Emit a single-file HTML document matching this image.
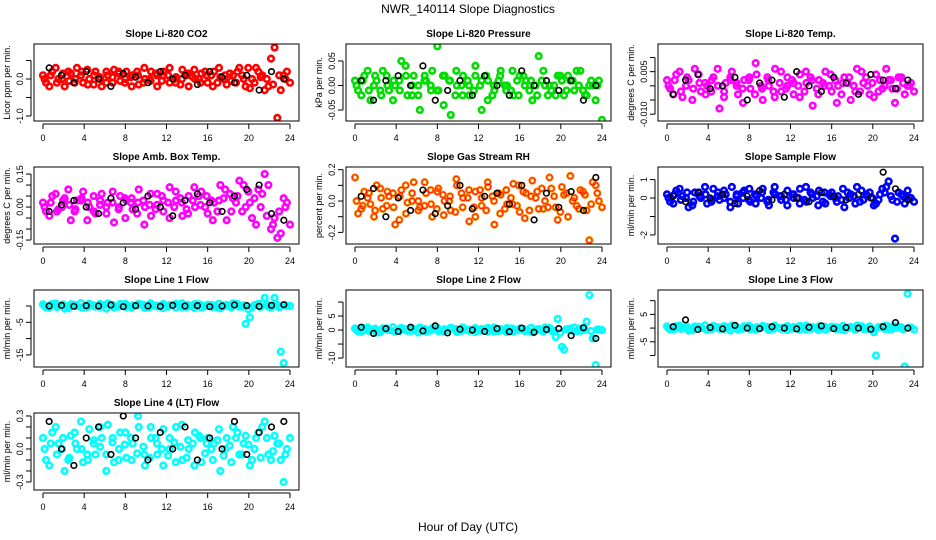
<!DOCTYPE html>
<html><head><meta charset="utf-8"><style>
body{margin:0;background:#fff;}
svg{display:block;font-family:"Liberation Sans",sans-serif;}
</style></head><body>
<svg id="chart" width="936" height="540" viewBox="0 0 936 540">
<text x="468" y="13" text-anchor="middle" font-size="12">NWR_140114  Slope Diagnostics</text>
<text x="468" y="531" text-anchor="middle" font-size="12">Hour of Day (UTC)</text>
</svg>
<script>
// x-axis ticks (hours)
const xTicks=[0,4,8,12,16,20,24];
// panel titles
const titles=["Slope Li-820 CO2","Slope Li-820 Pressure","Slope Li-820 Temp.","Slope Amb. Box Temp.","Slope Gas Stream RH","Slope Sample Flow","Slope Line 1 Flow","Slope Line 2 Flow","Slope Line 3 Flow","Slope Line 4 (LT) Flow"];
const yTitles=["Licor ppm per min.","kPa per min.","degrees C per min.","degrees C per min.","percent per min.","ml/min per min.","ml/min per min.","ml/min per min.","ml/min per min.","ml/min per min."];
// y domains [min,max]
const yDomains=[[-1.135,0.946],[-0.0724,0.0847],[-0.0124,0.01475],[-0.168,0.182],[-0.274,0.217],[-2.49,1.68],[-18.7,4.9],[-13.2,14.3],[-14.2,13.9],[-0.373,0.327]];
// y ticks and labels
const yTickVals=[[-1,-0.5,0,0.5],[-0.05,0,0.05],[-0.01,-0.005,0,0.005,0.01],[-0.15,-0.1,-0.05,0,0.05,0.1,0.15],[-0.2,-0.1,0,0.1,0.2],[-2,-1,0,1],[-15,-10,-5,0],[-10,-5,0,5,10],[-15,-10,-5,0,5,10],[-0.3,-0.2,-0.1,0,0.1,0.2,0.3]];
const yTickLabels=[["-1.0","","0.0",""],["-0.05","0.00","0.05"],["-0.010","","","0.005",""],["-0.15","","","0.00","","","0.15"],["-0.2","","0.0","","0.2"],["-2","","0","1"],["-15","","-5",""],["-10","","0","5",""],["-15","","-5","","5",""],["-0.3","","","0.0","","","0.3"]];
const colors=["#ff0000","#00dd00","#ff00ff","#ff00ff","#ff8c00","#0000ff","#00ffff","#00ffff","#00ffff","#00ffff"];

// colored series A, B, C and black series K per panel
const p1A=[0.1,-0.2,0.3,0.0,0.2,-0.1,0.1,0.25,-0.15,0.05,0.2,-0.1,0.15,0.0,-0.2,0.1,0.3,-0.05,0.1,0.2,-0.1,0.05,0.25,-0.2,0.0,0.15,-0.1,0.2,0.05,-0.15,0.1,0.3,-0.2,0.0,0.2,-0.3,0.55,-1.05,0.1,-0.1];
const p1B=[-0.1,0.2,0.0,-0.2,0.15,0.3,-0.1,0.0,0.2,-0.2,0.1,0.25,-0.05,0.2,0.1,-0.15,0.0,0.2,-0.2,0.1,0.3,-0.1,0.0,0.15,0.25,-0.1,0.1,-0.2,0.3,0.1,-0.05,0.2,0.0,-0.25,0.3,0.1,-0.2,0.85,-0.3,0.2];
const p1C=[0.0,0.1,-0.1,0.15,-0.05,0.0,0.2,-0.15,0.1,0.0,-0.1,0.05,0.2,-0.1,0.05,0.2,-0.1,0.0,0.15,-0.05,0.1,0.0,-0.15,0.1,0.05,0.0,0.2,0.1,-0.1,0.0,0.15,-0.1,0.1,0.3,-0.1,0.05,0.0,-0.15,0.1,0.0];
const p1K=[0.3,0.1,-0.1,0.2,0.0,-0.2,0.15,0.05,-0.1,0.2,0.0,0.1,-0.15,0.2,0.05,-0.1,0.1,-0.3,0.2,0.0];
const p2A=[0.01,-0.02,0.03,0.0,-0.01,0.02,-0.03,0.01,0.04,-0.02,0.0,0.02,-0.01,0.08,-0.04,0.01,0.03,-0.02,0.0,0.02,-0.05,0.01,-0.01,0.03,0.0,-0.02,0.02,0.01,-0.03,0.06,0.0,-0.01,0.02,-0.02,0.01,0.03,-0.01,0.0,-0.03,-0.07];
const p2B=[-0.01,0.02,-0.03,0.01,0.03,-0.01,0.0,0.05,-0.02,0.02,-0.05,0.01,0.03,-0.01,0.02,-0.06,0.0,0.02,-0.02,0.04,0.01,-0.03,0.0,0.02,-0.01,0.03,-0.02,0.0,0.01,-0.02,0.03,0.0,-0.02,0.01,0.02,-0.01,0.03,-0.02,0.0,0.01];
const p2C=[0.0,0.01,-0.01,0.02,-0.02,0.0,0.01,-0.01,0.02,0.0,-0.02,0.01,0.0,-0.01,0.02,0.01,-0.02,0.0,0.01,-0.01,0.0,0.02,-0.02,0.01,0.0,-0.01,0.01,0.02,-0.01,0.0,0.01,-0.02,0.0,0.02,-0.01,0.01,0.0,-0.02,0.01,0.0];
const p2K=[0.01,-0.03,0.01,0.02,0.0,0.04,-0.03,-0.01,0.01,-0.02,0.02,0.0,-0.02,0.03,0.0,0.01,-0.01,0.01,-0.03,0.0];
const p3A=[0.002,-0.003,0.005,0.0,-0.005,0.004,0.001,-0.002,0.006,-0.004,0.002,0.0,-0.006,0.003,0.008,-0.001,0.002,-0.004,0.005,0.0,-0.003,0.004,0.001,-0.007,0.002,0.005,-0.002,0.0,0.003,-0.005,0.006,0.001,-0.003,0.004,-0.001,0.002,-0.006,0.003,0.0,-0.002];
const p3B=[-0.001,0.004,-0.004,0.002,0.006,-0.002,0.0,0.003,-0.008,0.001,0.005,-0.003,0.002,-0.001,0.004,-0.005,0.0,0.006,-0.002,0.003,0.001,-0.004,0.005,0.002,-0.003,0.0,0.004,-0.006,0.001,0.003,-0.002,0.005,0.0,-0.004,0.002,0.006,-0.001,0.003,-0.003,0.001];
const p3C=[0.0,0.002,-0.002,0.003,-0.001,0.001,-0.003,0.002,0.0,-0.002,0.003,0.001,-0.001,0.002,-0.003,0.0,0.003,-0.002,0.001,-0.001,0.002,0.0,-0.002,0.003,-0.001,0.001,0.0,0.002,-0.003,0.001,0.0,-0.002,0.003,0.001,-0.002,0.0,0.002,-0.001,0.001,0.0];
const p3K=[-0.003,0.002,0.004,-0.001,0.0,0.003,-0.005,0.001,0.002,-0.004,0.005,0.0,-0.002,0.003,0.001,-0.003,0.004,0.002,-0.001,0.002];
const p4A=[0.02,-0.04,0.06,0.0,0.08,-0.02,0.03,-0.06,0.05,0.01,-0.03,0.07,0.0,-0.05,0.04,0.02,-0.08,0.06,0.01,-0.02,0.09,0.03,-0.04,0.05,0.0,0.07,-0.03,0.02,0.1,-0.06,0.04,0.12,0.0,-0.05,0.08,0.15,-0.1,-0.14,0.04,-0.08];
const p4B=[-0.02,0.05,-0.01,0.04,-0.06,0.03,0.07,0.0,-0.03,0.06,0.02,-0.07,0.05,0.03,-0.01,0.08,0.0,-0.04,0.06,0.03,-0.05,0.07,0.02,-0.03,0.09,0.01,0.05,-0.06,0.03,0.08,-0.02,0.05,0.1,0.02,-0.08,0.06,0.1,-0.05,-0.12,0.02];
const p4C=[0.0,0.02,-0.02,0.03,0.01,-0.01,0.04,0.02,-0.02,0.03,0.0,0.02,-0.01,0.04,0.02,-0.03,0.03,0.01,-0.01,0.05,0.02,0.0,0.04,-0.01,0.03,0.05,0.0,0.03,-0.02,0.04,0.06,0.02,-0.02,0.07,0.04,0.0,-0.04,-0.08,-0.02,0.0];
const p4K=[-0.02,0.01,0.03,0.0,-0.03,0.04,0.02,-0.01,0.05,0.0,-0.04,0.03,0.06,0.02,-0.02,0.05,0.08,0.1,-0.03,-0.06];
const p5A=[0.15,-0.05,0.02,-0.1,0.08,-0.03,0.05,-0.12,0.1,0.0,-0.06,0.12,-0.02,0.06,-0.09,0.03,0.14,-0.04,0.07,-0.1,0.02,0.09,-0.15,0.04,-0.02,0.11,-0.07,0.05,0.13,-0.05,0.0,0.08,-0.12,0.04,0.16,-0.03,0.06,-0.25,0.1,-0.04];
const p5B=[-0.08,0.06,-0.02,0.1,-0.05,0.03,-0.15,0.07,-0.01,0.12,-0.04,0.05,-0.1,0.08,0.0,-0.06,0.1,0.02,-0.13,0.06,-0.03,0.12,0.0,-0.08,0.07,-0.02,0.1,-0.11,0.03,0.06,-0.05,0.15,-0.04,0.09,-0.1,0.02,0.07,-0.06,0.12,0.0];
const p5C=[0.0,-0.03,0.05,-0.06,0.02,0.06,-0.04,0.03,-0.08,0.05,0.0,-0.03,0.07,-0.05,0.04,0.0,-0.07,0.05,0.02,-0.04,0.07,-0.06,0.03,0.05,-0.05,0.02,-0.03,0.06,-0.06,0.02,0.08,-0.04,0.03,-0.07,0.05,0.0,-0.05,0.04,-0.02,0.05];
const p5K=[0.03,0.08,-0.1,0.02,-0.06,0.07,-0.08,-0.03,0.1,-0.05,0.03,0.05,-0.02,0.1,-0.12,0.05,-0.04,0.06,-0.06,0.15];
const p6A=[0.2,-0.3,0.5,0.0,-0.4,0.3,0.6,-0.2,0.1,0.4,-0.5,0.2,0.0,0.5,-0.3,0.3,-0.1,0.6,0.1,-0.4,0.2,0.5,-0.2,0.0,0.4,-0.3,0.3,0.1,-0.5,0.2,0.6,-0.1,0.3,-0.3,0.5,0.9,-2.2,0.2,0.4,-0.2];
const p6B=[-0.2,0.4,0.1,-0.5,0.3,0.0,-0.3,0.5,-0.1,0.2,0.6,-0.3,0.4,-0.2,0.1,0.5,-0.4,0.2,-0.1,0.4,0.0,-0.3,0.6,0.2,-0.4,0.3,0.1,-0.2,0.5,0.0,-0.3,0.4,0.1,-0.4,0.2,0.6,-0.1,0.3,-0.3,0.0];
const p6C=[0.0,0.2,-0.1,0.3,-0.2,0.1,0.2,-0.1,0.3,0.0,-0.2,0.1,0.3,-0.1,0.2,0.0,-0.2,0.3,0.1,-0.1,0.2,0.0,-0.1,0.3,0.1,-0.2,0.2,0.0,-0.1,0.3,0.1,-0.2,0.2,0.0,-0.1,0.3,0.1,-0.2,0.1,0.0];
const p6K=[0.1,-0.2,0.3,0.0,0.2,-0.3,0.1,0.4,-0.1,0.2,0.0,-0.2,0.3,0.1,-0.1,0.2,0.0,1.4,0.5,-0.1];
const p7A=[0.5,-0.5,0.8,0.0,-0.7,0.4,0.9,-0.3,0.2,0.6,-0.8,0.3,0.0,0.7,-0.5,0.4,-0.2,0.8,0.1,-0.6,0.3,0.7,-0.4,0.0,0.6,-0.5,0.4,0.1,-0.7,0.3,0.8,-0.2,-5.5,-0.4,0.6,2.5,-0.5,0.3,-17.5,0.0];
const p7B=[-0.4,0.6,0.1,-0.8,0.5,0.0,-0.5,0.7,-0.2,0.3,0.8,-0.5,0.6,-0.3,0.2,0.7,-0.6,0.3,-0.2,0.6,0.0,-0.5,0.8,0.3,-0.6,0.4,0.1,-0.3,0.7,0.0,-0.5,0.6,0.2,-3.5,0.3,0.8,-0.2,2.5,-14,0.0];
const p7C=[0.0,0.3,-0.3,0.5,-0.2,0.2,-0.4,0.4,0.0,-0.3,0.5,0.1,-0.2,0.3,-0.4,0.2,0.4,-0.3,0.1,0.3,-0.2,0.4,0.0,-0.3,0.2,0.5,-0.1,0.3,-0.4,0.2,0.0,0.4,-0.2,-1.0,0.3,-0.3,0.5,0.1,-0.4,0.2];
const p7K=[0.0,0.2,-0.1,0.1,0.0,0.3,-0.2,0.1,0.0,-0.1,0.2,0.0,0.1,-0.2,0.0,0.3,0.1,-0.1,0.2,0.4];
const p8A=[0.6,-0.6,0.9,0.0,-0.8,0.5,1.0,-0.4,0.3,0.7,-0.9,0.4,0.0,0.8,-0.6,0.5,-0.3,0.9,0.1,-0.7,0.4,0.8,-0.5,0.0,0.7,-0.6,0.5,0.1,-0.8,0.4,0.9,-0.3,4.0,-7.0,0.5,-0.4,0.6,12.5,-12.5,0.0];
const p8B=[-0.5,0.7,0.2,-0.9,0.6,0.0,-0.6,0.8,-0.3,0.4,0.9,-0.6,0.7,-0.4,0.3,0.8,-0.7,0.4,-0.3,0.7,0.0,-0.6,0.9,0.4,-0.7,0.5,0.2,-0.4,0.8,0.0,-0.6,0.7,-2.5,-6.0,0.4,0.9,-0.3,3.0,-3.0,0.2];
const p8C=[0.0,0.3,-0.3,0.5,-0.2,0.2,-0.4,0.4,0.0,-0.3,0.5,0.1,-0.2,0.3,-0.4,0.2,0.4,-0.3,0.1,0.3,-0.2,0.4,0.0,-0.3,0.2,0.5,-0.1,0.3,-0.4,0.2,0.0,0.4,-0.2,-1.0,0.3,-0.3,0.5,0.1,-0.4,0.2];
const p8K=[1.0,-1.2,0.5,-0.5,1.0,-0.3,1.5,-1.0,0.3,0.0,-0.5,0.5,-0.6,0.7,-0.8,0.2,0.5,-2.0,0.8,-3.0];
const p9A=[0.6,-0.6,0.9,0.0,-0.8,0.5,1.0,-0.4,0.3,0.7,-0.9,0.4,0.0,0.8,-0.6,0.5,-0.3,0.9,0.1,-0.7,0.4,0.8,-0.5,0.0,0.7,-0.6,0.5,0.1,-0.8,0.4,0.9,-0.3,0.6,-10.0,0.5,-0.4,0.6,0.3,12.5,-0.5];
const p9B=[-0.5,0.7,0.2,-0.9,0.6,0.0,-0.6,0.8,-0.3,0.4,0.9,-0.6,0.7,-0.4,0.3,0.8,-0.7,0.4,-0.3,0.7,0.0,-0.6,0.9,0.4,-0.7,0.5,0.2,-0.4,0.8,0.0,-0.6,0.7,-0.3,-1.5,0.4,0.9,-0.3,0.5,-14.0,0.2];
const p9C=[0.0,0.3,-0.3,0.5,-0.2,0.2,-0.4,0.4,0.0,-0.3,0.5,0.1,-0.2,0.3,-0.4,0.2,0.4,-0.3,0.1,0.3,-0.2,0.4,0.0,-0.3,0.2,0.5,-0.1,0.3,-0.4,0.2,0.0,0.4,-0.2,-0.6,0.3,-0.3,0.5,0.1,-0.4,0.2];
const p9K=[0.5,3.0,-0.5,0.2,-0.3,1.0,0.0,-0.2,0.5,0.0,-0.3,0.3,0.8,-0.2,0.2,0.0,-0.4,0.5,2.0,0.0];
const p10A=[0.1,-0.15,0.2,0.0,-0.1,0.15,0.25,-0.05,0.05,0.2,-0.2,0.1,0.0,0.15,-0.1,0.3,-0.05,0.2,0.05,-0.15,0.1,0.2,-0.1,0.0,0.15,-0.12,0.1,0.05,-0.2,0.1,0.2,-0.05,0.12,-0.1,0.15,0.25,-0.1,0.05,-0.3,0.1];
const p10B=[-0.1,0.15,0.05,-0.2,0.12,0.0,-0.12,0.18,-0.05,0.1,0.22,-0.12,0.15,-0.08,0.05,0.2,-0.15,0.1,-0.05,0.18,0.0,-0.12,0.22,0.08,-0.15,0.1,0.05,-0.1,0.18,0.0,-0.12,0.15,0.05,-0.15,0.1,0.2,-0.05,0.12,-0.1,0.0];
const p10C=[0.0,0.05,-0.05,0.1,-0.08,0.05,0.0,-0.1,0.08,0.02,-0.05,0.06,-0.1,0.04,0.1,-0.04,0.02,-0.08,0.1,0.0,-0.06,0.06,0.02,-0.08,0.05,0.12,-0.04,0.0,0.08,-0.06,0.03,0.1,-0.05,0.04,0.0,-0.08,0.1,-0.02,0.05,-0.05];
const p10K=[0.25,0.0,-0.15,0.1,0.2,-0.05,0.3,0.1,-0.1,0.15,0.0,0.2,-0.1,0.1,0.0,0.25,-0.05,0.15,0.2,0.25];
const seriesA=[p1A,p2A,p3A,p4A,p5A,p6A,p7A,p8A,p9A,p10A];
const seriesB=[p1B,p2B,p3B,p4B,p5B,p6B,p7B,p8B,p9B,p10B];
const seriesC=[p1C,p2C,p3C,p4C,p5C,p6C,p7C,p8C,p9C,p10C];
const seriesK=[p1K,p2K,p3K,p4K,p5K,p6K,p7K,p8K,p9K,p10K];

const NS="http://www.w3.org/2000/svg";
const svg=document.getElementById('chart');
function mk(tag,attrs,parent){const e=document.createElementNS(NS,tag);for(const k in attrs)e.setAttribute(k,attrs[k]);(parent||svg).appendChild(e);return e;}

for(let p=0;p<10;p++){
  const col=p%3,row=Math.floor(p/3);
  const bx=34+col*312,bw=265,by=44+row*123,bh=77;
  const x0=bx+9,x1=bx+256;
  const [ymin,ymax]=yDomains[p];
  const xs=h=>x0+(h/24)*(x1-x0);
  const ys=v=>by+bh-(v-ymin)/(ymax-ymin)*bh;
  const g=mk('g',{});
  
  
  const t=mk('text',{x:bx+bw/2,y:by-7,'text-anchor':'middle','font-size':10,'font-weight':'bold'},g);
  t.textContent=titles[p];
  
  
  const yt=mk('text',{transform:`translate(${bx-24},${by+bh/2}) rotate(-90)`,'text-anchor':'middle','font-size':9},g);
  yt.textContent=yTitles[p];
  
  
  const xa=mk('line',{x1:x0,x2:x1,y1:by+bh+3,y2:by+bh+3,stroke:'#000','stroke-width':1},g);
  
  
  xTicks.forEach(h=>{
    mk('line',{x1:xs(h),x2:xs(h),y1:by+bh+3,y2:by+bh+8,stroke:'#000'},g);
    const l=mk('text',{x:xs(h),y:by+bh+20,'text-anchor':'middle','font-size':9},g);
    l.textContent=h;
    
    
  });
  const tv=yTickVals[p].filter(v=>v>=ymin&&v<=ymax);
  const ya=mk('line',{x1:bx-3,x2:bx-3,y1:ys(Math.min(...tv)),y2:ys(Math.max(...tv)),stroke:'#000'},g);
  
  
  yTickVals[p].forEach((v,i)=>{
    if(v<ymin||v>ymax)return;
    mk('line',{x1:bx-8,x2:bx-3,y1:ys(v),y2:ys(v),stroke:'#000'},g);
    if(yTickLabels[p][i]){
      const l=mk('text',{transform:`translate(${bx-11},${ys(v)}) rotate(-90)`,'text-anchor':'middle','font-size':9},g);
      l.textContent=yTickLabels[p][i];
      
      
    }
  });
  const clip=mk('clipPath',{id:'c'+p},g);
  mk('rect',{x:bx,y:by,width:bw,height:bh},clip);
  const pts=mk('g',{'clip-path':`url(#c${p})`},g);
  const c=colors[p];
  const drawS=(arr,off,n,color,sw,name)=>{
    arr.forEach((v,i)=>{
      const h=(i+off)*24/n;
      const e=mk('circle',{cx:xs(h),cy:ys(v),r:2.8,fill:'none',stroke:color,'stroke-width':sw},pts);
      
      
    });
  };
  drawS(seriesA[p],0,seriesA[p].length-1,c,2.6,'point-series');
  drawS(seriesB[p],0.5,seriesB[p].length,c,2.6,'point-series');
  drawS(seriesC[p],0.25,seriesC[p].length,c,2.6,'point-series');
  if(p===4){
    drawS(seriesA[p],0,seriesA[p].length-1,'#ff0000',0.7,'point-series-edge');
    drawS(seriesB[p],0.5,seriesB[p].length,'#ff0000',0.7,'point-series-edge');
    drawS(seriesC[p],0.25,seriesC[p].length,'#ff0000',0.7,'point-series-edge');
  }
  drawS(seriesK[p],0.5,seriesK[p].length,'#000',1.6,'point-reference');
  const box=mk('rect',{x:bx,y:by,width:bw,height:bh,fill:'none',stroke:'#000','stroke-width':1},g);
  
  
}
</script>
</body></html>
